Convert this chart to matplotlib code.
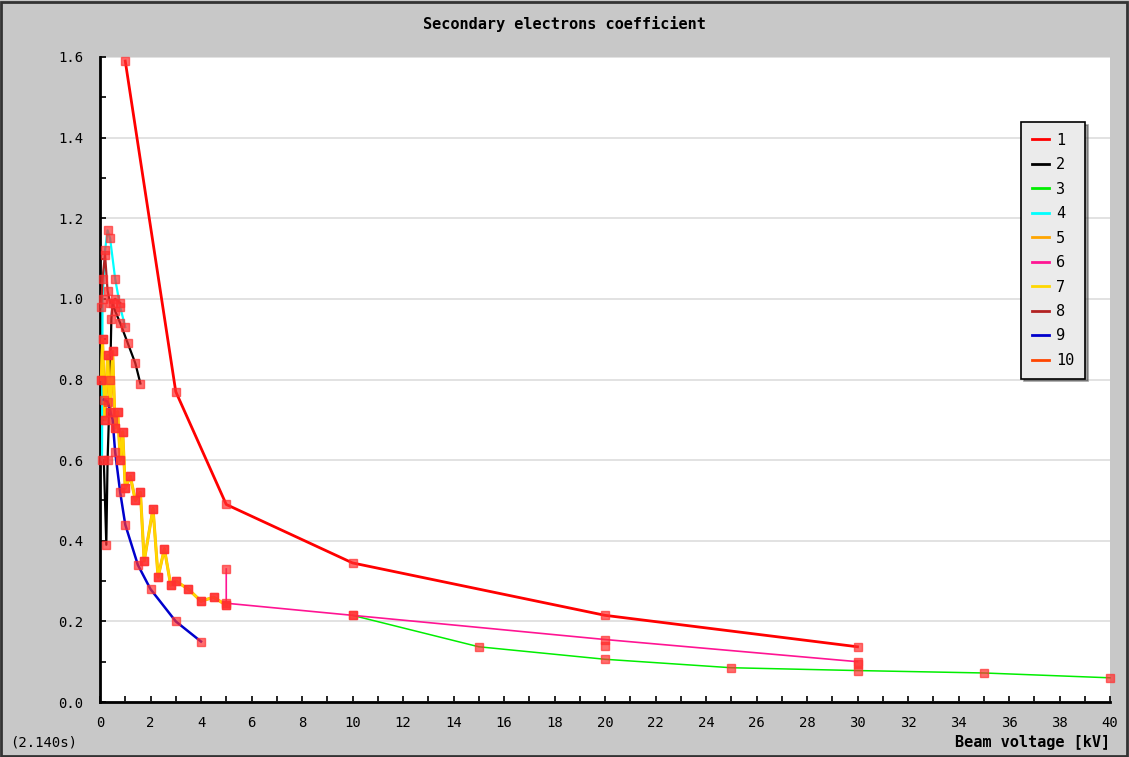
import numpy as np
import matplotlib.pyplot as plt
from matplotlib.patches import Rectangle

# Beam voltage [kV] and secondary electrons coefficient, one pair of lists per series
x1 = [1, 3, 5, 10, 20, 30]
y1 = [1.59, 0.77, 0.49, 0.345, 0.215, 0.137]

x2 = [0.15, 0.25, 0.3, 0.4, 0.45, 0.5, 0.6, 0.8, 1.1, 1.4, 1.6]
y2 = [0.60, 0.39, 0.60, 0.80, 0.95, 0.99, 0.97, 0.94, 0.89, 0.84, 0.79]

x3 = [10, 15, 20, 25, 30, 35, 40]
y3 = [0.215, 0.137, 0.106, 0.085, 0.078, 0.072, 0.060]

x4 = [0.08, 0.1, 0.2, 0.3, 0.4, 0.6, 0.8, 1.0]
y4 = [0.60, 1.00, 1.12, 1.17, 1.15, 1.05, 0.98, 0.93]

x5 = [0.05, 0.1, 0.2, 0.3, 0.4, 0.5, 0.6, 0.7, 0.8, 0.9, 1.0, 1.2, 1.4, 1.6,
      1.75, 2.1, 2.3, 2.55, 2.8, 3.0, 3.5, 4.0, 4.5, 5.0]
y5 = [0.80, 0.90, 0.70, 0.86, 0.72, 0.87, 0.68, 0.72, 0.60, 0.67, 0.53, 0.56,
      0.50, 0.52, 0.35, 0.48, 0.31, 0.38, 0.29, 0.30, 0.28, 0.25, 0.26, 0.24]

x6 = [5, 5, 10, 20, 30]
y6 = [0.33, 0.245, 0.215, 0.155, 0.10]

x7 = x5
y7 = y5

x8 = [0.05, 0.1, 0.2, 0.3, 0.4, 0.6, 0.8]
y8 = [0.98, 1.05, 1.11, 1.02, 0.99, 1.00, 0.99]

x9 = [0.15, 0.3, 0.5, 0.6, 0.8, 1.0, 1.5, 2.0, 3.0, 4.0]
y9 = [0.75, 0.745, 0.70, 0.62, 0.52, 0.44, 0.34, 0.28, 0.20, 0.15]

x10 = [20, 30]
y10 = [0.14, 0.095]

series = [
    ("1", x1, y1, "#ff0000", 2.0),
    ("2", x2, y2, "#000000", 1.6),
    ("3", x3, y3, "#00ee00", 1.1),
    ("4", x4, y4, "#00ffff", 1.6),
    ("5", x5, y5, "#ffa500", 2.2),
    ("6", x6, y6, "#ff1493", 1.2),
    ("7", x7, y7, "#ffd700", 1.8),
    ("8", x8, y8, "#b22222", 1.6),
    ("9", x9, y9, "#0000cc", 1.8),
    ("10", x10, y10, "#ff4500", 0.0),
]

mono = "DejaVu Sans Mono"
fig = plt.figure(figsize=(11.29, 7.57), dpi=100, facecolor="#c8c8c8")
ax = fig.add_axes([100 / 1129, 55 / 757, 1010 / 1129, 645 / 757])
ax.set_facecolor("white")

handles = []
for name, xs, ys, col, lw in series:
    ax.plot(xs, ys, color=col, lw=lw, zorder=3, clip_on=False)
    ax.plot(xs, ys, ls="none", marker="s", ms=5.5, color="#ff3030", alpha=0.7,
            mec="#ff3030", zorder=4, clip_on=False)
    handles.append(plt.Line2D([], [], color=col, lw=2))

ax.set_xlim(0, 40)
ax.set_ylim(0, 1.6)
ax.set_xticks(np.arange(0, 41, 2))
ax.set_xticks(np.arange(0, 41, 1), minor=True)
ax.set_yticks(np.arange(0, 1.61, 0.2))
ax.set_yticks(np.arange(0, 1.61, 0.1), minor=True)
ax.set_xticklabels([str(v) for v in range(0, 41, 2)], fontfamily=mono, fontsize=10)
ax.set_yticklabels([f"{v:.1f}" for v in np.arange(0, 1.61, 0.2)], fontfamily=mono, fontsize=10)
ax.tick_params(which="both", direction="in", length=4, width=1.2, color="black")
ax.tick_params(axis="x", pad=10)
ax.tick_params(axis="y", pad=12)
ax.grid(axis="y", color="#dddddd", lw=1.2, zorder=0)
for s in ["top", "right"]:
    ax.spines[s].set_visible(False)
for s in ["left", "bottom"]:
    ax.spines[s].set_linewidth(2)

fig.text(0.5, 0.968, "Secondary electrons coefficient", ha="center", va="center",
         fontfamily=mono, fontsize=11, fontweight="bold")
fig.text(1110 / 1129, 1 - 742 / 757, "Beam voltage [kV]", ha="right", va="center",
         fontfamily=mono, fontsize=11, fontweight="bold")
fig.text(10 / 1129, 1 - 743 / 757, "(2.140s)", ha="left", va="center",
         fontfamily=mono, fontsize=10)

leg = ax.legend(handles, [s[0] for s in series], loc="upper left",
                bbox_to_anchor=(1021 / 1129, 1 - 122 / 757), bbox_transform=fig.transFigure,
                frameon=True, fancybox=False, shadow=True, facecolor="#ebebeb",
                edgecolor="black", prop={"family": mono, "size": 11}, handlelength=1.1,
                labelspacing=0.62, borderpad=0.7, handletextpad=0.5, borderaxespad=0)
leg.get_frame().set_linewidth(1.2)
leg.get_frame().set_alpha(1)

fig.patches.append(Rectangle((0.001, 0.001), 0.997, 0.997, transform=fig.transFigure,
                             fill=False, edgecolor="#333333", lw=2))

fig.savefig("out.png", dpi=100, facecolor=fig.get_facecolor())
